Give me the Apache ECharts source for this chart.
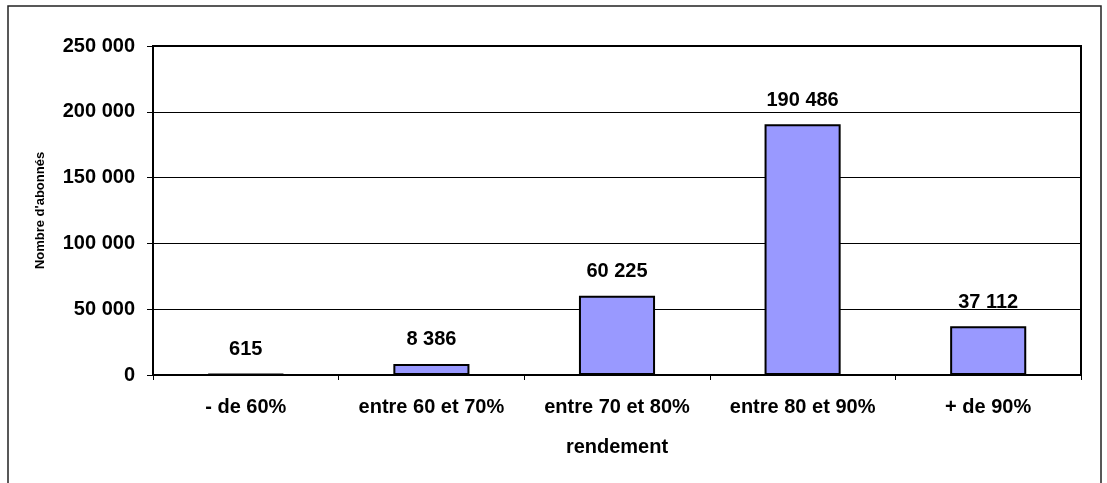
<!DOCTYPE html>
<html>
<head>
<meta charset="utf-8">
<script src="https://cdn.jsdelivr.net/npm/echarts@6/dist/echarts.min.js"></script>
<style>
html,body{margin:0;padding:0;background:#fff;}
#chart{width:1107px;height:483px;}
</style>
</head>
<body>
<div id="chart"></div>
<script>
var categories = ['- de 60%', 'entre 60 et 70%', 'entre 70 et 80%', 'entre 80 et 90%', '+ de 90%'];
var values = [615, 8386, 60225, 190486, 37112];
var yTicks = [0, 50000, 100000, 150000, 200000, 250000];
var xTitle = 'rendement';
var yTitle = "Nombre d'abonnés";

function fmt(v) {
  return String(v).replace(/\B(?=(\d{3})+(?!\d))/g, ' ');
}

var FONT = '"Liberation Sans", Arial, sans-serif';
var chart = echarts.init(document.getElementById('chart'), null, {renderer: 'canvas'});
chart.setOption({
  animation: false,
  backgroundColor: '#fff',
  textStyle: {fontFamily: FONT},
  graphic: [{
    type: 'rect',
    shape: {x: 8, y: 6, width: 1093, height: 490},
    style: {fill: 'none', stroke: '#222', lineWidth: 1.5},
    silent: true
  }],
  grid: {
    left: 153, right: 26, top: 46, bottom: 108,
    show: true, borderColor: '#000', borderWidth: 2, backgroundColor: 'transparent'
  },
  xAxis: {
    type: 'category',
    data: categories,
    name: xTitle,
    nameLocation: 'middle',
    nameGap: 62,
    nameTextStyle: {fontFamily: FONT, fontSize: 20, fontWeight: 'bold', color: '#000'},
    axisLine: {lineStyle: {color: '#000', width: 2}},
    axisTick: {show: true, length: 5, lineStyle: {color: '#000', width: 1}},
    axisLabel: {interval: 0, margin: 22, fontFamily: FONT, fontSize: 20, fontWeight: 'bold', color: '#000'}
  },
  yAxis: {
    type: 'value',
    min: yTicks[0],
    max: yTicks[yTicks.length - 1],
    interval: yTicks[1] - yTicks[0],
    name: yTitle,
    nameLocation: 'middle',
    nameGap: 106,
    nameRotate: 90,
    nameTextStyle: {fontFamily: FONT, fontSize: 13, fontWeight: 'bold', color: '#000'},
    axisLine: {show: true, lineStyle: {color: '#000', width: 2}},
    axisTick: {show: true, length: 6, lineStyle: {color: '#000', width: 1}},
    axisLabel: {margin: 18, fontFamily: FONT, fontSize: 20, fontWeight: 'bold', color: '#000', formatter: fmt},
    splitLine: {show: true, lineStyle: {color: '#000', width: 1}}
  },
  series: [{
    type: 'bar',
    data: values,
    barCategoryGap: '59%',
    itemStyle: {color: '#9999FF', borderColor: '#000', borderWidth: 2},
    label: {
      show: true, position: 'top', distance: 14,
      fontFamily: FONT, fontSize: 20, fontWeight: 'bold', color: '#000',
      formatter: function (p) { return fmt(p.value); }
    }
  }]
});
</script>
</body>
</html>
